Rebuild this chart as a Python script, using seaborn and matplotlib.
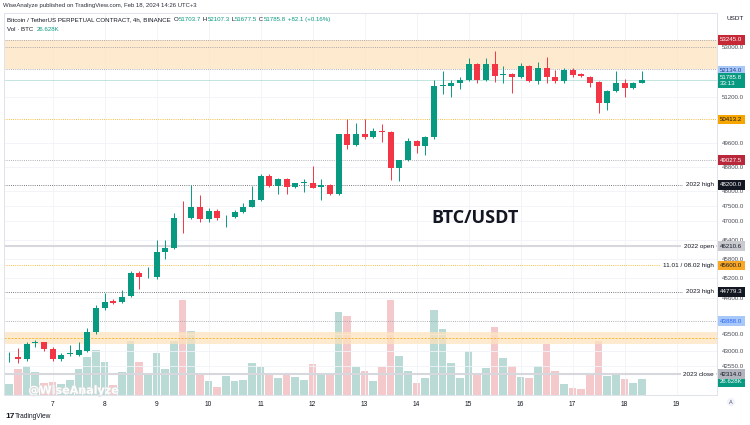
import numpy as np
import pandas as pd
import matplotlib
matplotlib.use("Agg")
import matplotlib.pyplot as plt
import matplotlib.patheffects as pe
from matplotlib.ticker import FixedLocator, NullLocator, FuncFormatter
import seaborn as sns

# ---------------- data (4h candles, Feb 6 04:00 -> Feb 18 08:00) ----------------
opens = [42816, 42833, 42766, 43229, 43250, 43050, 42757, 42904, 42892, 43001,
         43566, 44299, 44494, 44464, 44656, 45378, 45225, 45234, 46018, 46154,
         47126, 47106, 47463, 47084, 47342, 47130, 47148, 47300, 47483, 47702,
         48505, 48163, 48385, 48130, 48260, 48275, 48140, 48196, 47888, 49905,
         49540, 49925, 49810, 50000, 49975, 48745, 49021, 49668, 49512, 49822,
         51600, 51600, 51705, 51801, 52374, 51801, 52374, 51990, 52020, 51897,
         52302, 51776, 52241, 51897, 51776, 52158, 52000, 51915, 51730, 50999,
         51421, 51684, 51506, 51703.7]
highs = [42972, 43081, 43276, 43327, 43276, 43130, 42940, 43160, 43266, 43677,
         44381, 44740, 44574, 44841, 45420, 45420, 45565, 46408, 46408, 47270,
         47678, 48196, 47855, 47440, 47408, 47212, 47375, 47614, 48163, 48560,
         48545, 48420, 48420, 48270, 48395, 48811, 48395, 48230, 49930, 50417,
         50293, 50417, 50110, 50258, 50010, 49031, 49766, 49709, 49840, 51801,
         52110, 51783, 51920, 52577, 52410, 52577, 52855, 52302, 52050, 52398,
         52338, 52458, 52614, 52158, 52218, 52218, 52050, 51930, 51765, 51446,
         52110, 51825, 51740, 52107.3]
lows = [42677, 42638, 42706, 43130, 43001, 42706, 42706, 42855, 42862, 42972,
        43507, 44229, 44412, 44430, 44625, 44863, 45200, 45190, 45816, 46120,
        46643, 47070, 46996, 46970, 47040, 46835, 47100, 47290, 47460, 47670,
        48130, 47900, 47900, 48100, 47963, 48090, 47702, 47850, 47850, 49393,
        49500, 49750, 49790, 49652, 48362, 48312, 48990, 49252, 49200, 49730,
        51305, 51210, 51470, 51765, 51683, 51750, 51740, 51705, 51340, 51870,
        51740, 51660, 51683, 51705, 51705, 51897, 51910, 51563, 50650, 50744,
        51375, 51200, 51470, 51677.5]
closes = [42833, 42774, 43200, 43267, 43061, 42757, 42874, 42945, 43031, 43557,
          44299, 44482, 44450, 44635, 45378, 45234, 45240, 46018, 46154, 47126,
          47110, 47463, 47084, 47342, 47106, 47138, 47300, 47483, 47702, 48505,
          48163, 48385, 48130, 48252, 48275, 48110, 48196, 47888, 49905, 49529,
          49915, 49810, 50000, 49985, 48745, 49021, 49668, 49512, 49822, 51590,
          51625, 51705, 51801, 52374, 51801, 52374, 51955, 52010, 51897, 52302,
          51776, 52241, 51897, 51776, 52158, 51990, 51930, 51705, 50999, 51421,
          51684, 51506, 51705, 51785.8]
volumes_k = [18, 44, 49, 39, 20, 22, 18, 26, 44, 64,
             76, 56, 17, 39, 92, 56, 35, 72, 44, 92,
             161, 109, 36, 24, 13, 33, 24, 26, 55, 48,
             36, 29, 36, 30, 25, 52, 34, 37, 141, 134,
             47, 40, 23, 47, 161, 67, 40, 21, 28, 145,
             112, 55, 28, 75, 38, 46, 116, 62, 49, 31,
             29, 50, 87, 41, 19, 12, 11, 34, 92, 32,
             37, 27, 21, 26.628]
first_candle = "2024-02-06 04:00"
day_range = ("2024-02-07", "2024-02-19")

price_ticks = [53000, 51200, 49600, 48800, 48000, 47500, 47000, 46400,
               45800, 45200, 44600, 43500, 43000, 42550]

# level lines: value, left-side name, style
level_values = [53245.0, 52980.0, 52180.0, 50413.2, 49027.5, 48200.0,
                46210.6, 45600.0, 44779.3, 43888.0, 43378.0, 42314.0]
level_names = ["", "", "", "", "", "2022 high", "2022 open",
               "11.01 / 08.02 high", "2023 high", "", "", "2023 close"]
level_styles = ["dot", "dot", "dot", "odot", "dot", "ddot", "solid",
                "odot", "ddot", "dot", "odash", "solid"]
zones = [(52180.0, 53245.0), (43208.0, 43557.0)]

# right axis price labels: text, value, background, text colour
axis_labels = [
    ("53245.0", 53245.0, "#c62836", "white"),
    ("52134.0", 52134.0, "#a8c9f7", "#1c3d8f"),
    ("51785.8\n33:13", 51785.8, "#089981", "white"),
    ("50413.2", 50413.2, "#f7a600", "#131722"),
    ("49027.5", 49027.5, "#b8273a", "white"),
    ("48200.0", 48200.0, "#131722", "white"),
    ("46210.6", 46210.6, "#c9cbd1", "#131722"),
    ("45600.0", 45600.0, "#f9a825", "#131722"),
    ("44779.3", 44779.3, "#131722", "white"),
    ("43888.0", 43888.0, "#a8c9f7", "#2962ff"),
    ("42314.0", 42314.0, "#b2b5be", "#131722"),
]
volume_label = "26.628K"

# ---------------- figure ----------------
sns.set_theme(style="white")
plt.rcParams["font.family"] = ["Liberation Sans", "DejaVu Sans"]

W, H = 750, 425
fig = plt.figure(figsize=(7.5, 4.25), dpi=100)
fig.patch.set_facecolor("white")
L, R, B, T = 4, 717, 395, 13
ax = fig.add_axes([L / W, 1 - B / H, (R - L) / W, (B - T) / H])
axv = ax.twinx()
ax.set_zorder(axv.get_zorder() + 1)
ax.patch.set_visible(False)
axv.patch.set_visible(False)

n = len(opens)
o = np.array(opens, float); c = np.array(closes, float)
hi = np.array(highs, float); lo = np.array(lows, float)
x = np.arange(n)
up = c >= o
GREEN, RED = "#089981", "#f23645"
cols = np.where(up, GREEN, RED)

# volume via seaborn
df = pd.DataFrame({"x": x, "vol": volumes_k, "dir": np.where(up, "up", "down")})
sns.barplot(data=df, x="x", y="vol", hue="dir", palette={"up": GREEN, "down": RED},
            alpha=0.30, native_scale=True, width=0.88, dodge=False, errorbar=None,
            legend=False, linewidth=0, ax=axv)
axv.set_ylim(0, 648)
axv.set_yticks([])
axv.set_xlabel(""); axv.set_ylabel("")
for s in axv.spines.values():
    s.set_visible(False)

# candles
ax.vlines(x, lo, hi, colors=cols, lw=0.7, zorder=4)
bb = np.minimum(o, c)
bh = np.maximum(np.abs(c - o), bb * 0.00035)
ax.bar(x, bh, bottom=bb, width=0.68, color=cols, linewidth=0, zorder=5)

ax.set_yscale("log")
ax.set_ylim(41716, 54242)
ax.set_xlim(-0.61, 81.66)

# zones and levels
for lo_z, hi_z in zones:
    ax.axhspan(lo_z, hi_z, color="#fde3bf", alpha=0.75, lw=0, zorder=1)
style_map = {
    "dot": dict(color="#9598a1", ls=(0, (1, 1.6)), lw=0.6),
    "ddot": dict(color="#50535e", ls=(0, (1, 1.6)), lw=0.6),
    "odot": dict(color="#f7a600", ls=(0, (1, 1.6)), lw=0.6),
    "odash": dict(color="#f7a600", ls=(0, (3, 2)), lw=0.5),
    "solid": dict(color="#d6d8de", ls="-", lw=1.5),
}
for v, name, st in zip(level_values, level_names, level_styles):
    ax.axhline(v, zorder=2, **style_map[st])
    if name:
        ax.text(0.9952, v, name, transform=ax.get_yaxis_transform(), ha="right",
                va="center", fontsize=4.6, color="#131722", zorder=6,
                bbox=dict(boxstyle="square,pad=0.35", fc="white", ec="none"))
ax.axhline(closes[-1], color=GREEN, lw=0.5, alpha=0.35, zorder=2)

# ticks
times = pd.date_range(first_candle, periods=n, freq="4h")
days = pd.date_range(*day_range, freq="D")
xpos = (days - times[0]) / pd.Timedelta("4h")
ax.set_xticks(list(xpos))
ax.set_xticklabels([str(d.day) for d in days])
ax.yaxis.tick_right()
ax.yaxis.set_major_locator(FixedLocator(price_ticks))
ax.yaxis.set_minor_locator(NullLocator())
ax.yaxis.set_major_formatter(FuncFormatter(lambda v, p: f"{v:.1f}"))
ax.tick_params(axis="y", which="both", length=0, pad=3.5, labelsize=4.4,
               labelcolor="#4a4d57", right=False, labelright=True, left=False, labelleft=False)
ax.tick_params(axis="x", length=0, pad=4.5, labelsize=4.8, labelcolor="#131722")
ax.grid(True, color="#f0f3fa", lw=0.6, zorder=0)
for s in ax.spines.values():
    s.set_color("#e0e3eb"); s.set_linewidth(0.7)

# right axis labels
ytr = ax.get_yaxis_transform()
for txt, v, bg, fg in axis_labels:
    ax.text(1.0042, v, txt, transform=ytr, ha="left", va="center", fontsize=4.4,
            color=fg, zorder=10, clip_on=False, linespacing=1.15,
            bbox=dict(boxstyle="square,pad=0.4", fc=bg, ec="none"))
axv.text(1.0042, volumes_k[-1], volume_label, transform=axv.get_yaxis_transform(),
         ha="left", va="top", fontsize=4.4, color="white", zorder=10, clip_on=False,
         bbox=dict(boxstyle="square,pad=0.4", fc=GREEN, ec="none"))

# big label and watermark
ax.text(0.6606, 0.4634, "BTC/USDT", transform=ax.transAxes, ha="center", va="center",
        fontsize=13, family=["Open Sans", "DejaVu Sans"], fontweight="bold",
        color="#131722", zorder=6)
axv.text(2.2, 7, "@WiseAnalyze", ha="left", va="center", fontsize=8, fontweight="bold",
         family=["DejaVu Sans"], color="white", alpha=0.95, zorder=7,
         path_effects=[pe.withStroke(linewidth=0.8, foreground="#dedede")])

# header texts
def ftext(px, py, s, **kw):
    return fig.text(px / W, 1 - py / H, s, **kw)

ftext(3, 6, "WiseAnalyze published on TradingView.com, Feb 18, 2024 14:26 UTC+3",
      fontsize=4.3, color="#2a2e39", va="center")

fig.canvas.draw()
rend = fig.canvas.get_renderer()

def chain(px, py, segs, size):
    xcur = px
    for s, col in segs:
        t = fig.text(xcur / W, 1 - py / H, s, fontsize=size, color=col, va="baseline")
        xcur = t.get_window_extent(rend).x1

DARK = "#131722"
chain(7, 21, [("Bitcoin / TetherUS PERPETUAL CONTRACT, 4h, BINANCE  ", DARK),
              ("O", DARK), ("51703.7", GREEN), (" H", DARK), ("52107.3", GREEN),
              (" L", DARK), ("51677.5", GREEN), (" C", DARK), ("51785.8", GREEN),
              (" +82.1 (+0.16%)", GREEN)], 4.4)
chain(7, 31, [("Vol · BTC  ", DARK), (volume_label, GREEN)], 4.4)

ftext(735, 20, "USDT", fontsize=4.6, color=DARK, va="baseline", ha="center")
ftext(5, 416, "17", fontsize=6, fontweight="bold", color=DARK, va="center")
ftext(15, 416, "TradingView", fontsize=4.8, color=DARK, va="center")
ftext(731, 402, "A", fontsize=4, color="#50535e", va="center", ha="center",
      bbox=dict(boxstyle="circle,pad=0.3", fc="#f0f3fa", ec="none"))

fig.savefig("out.png", dpi=100, facecolor="white")
